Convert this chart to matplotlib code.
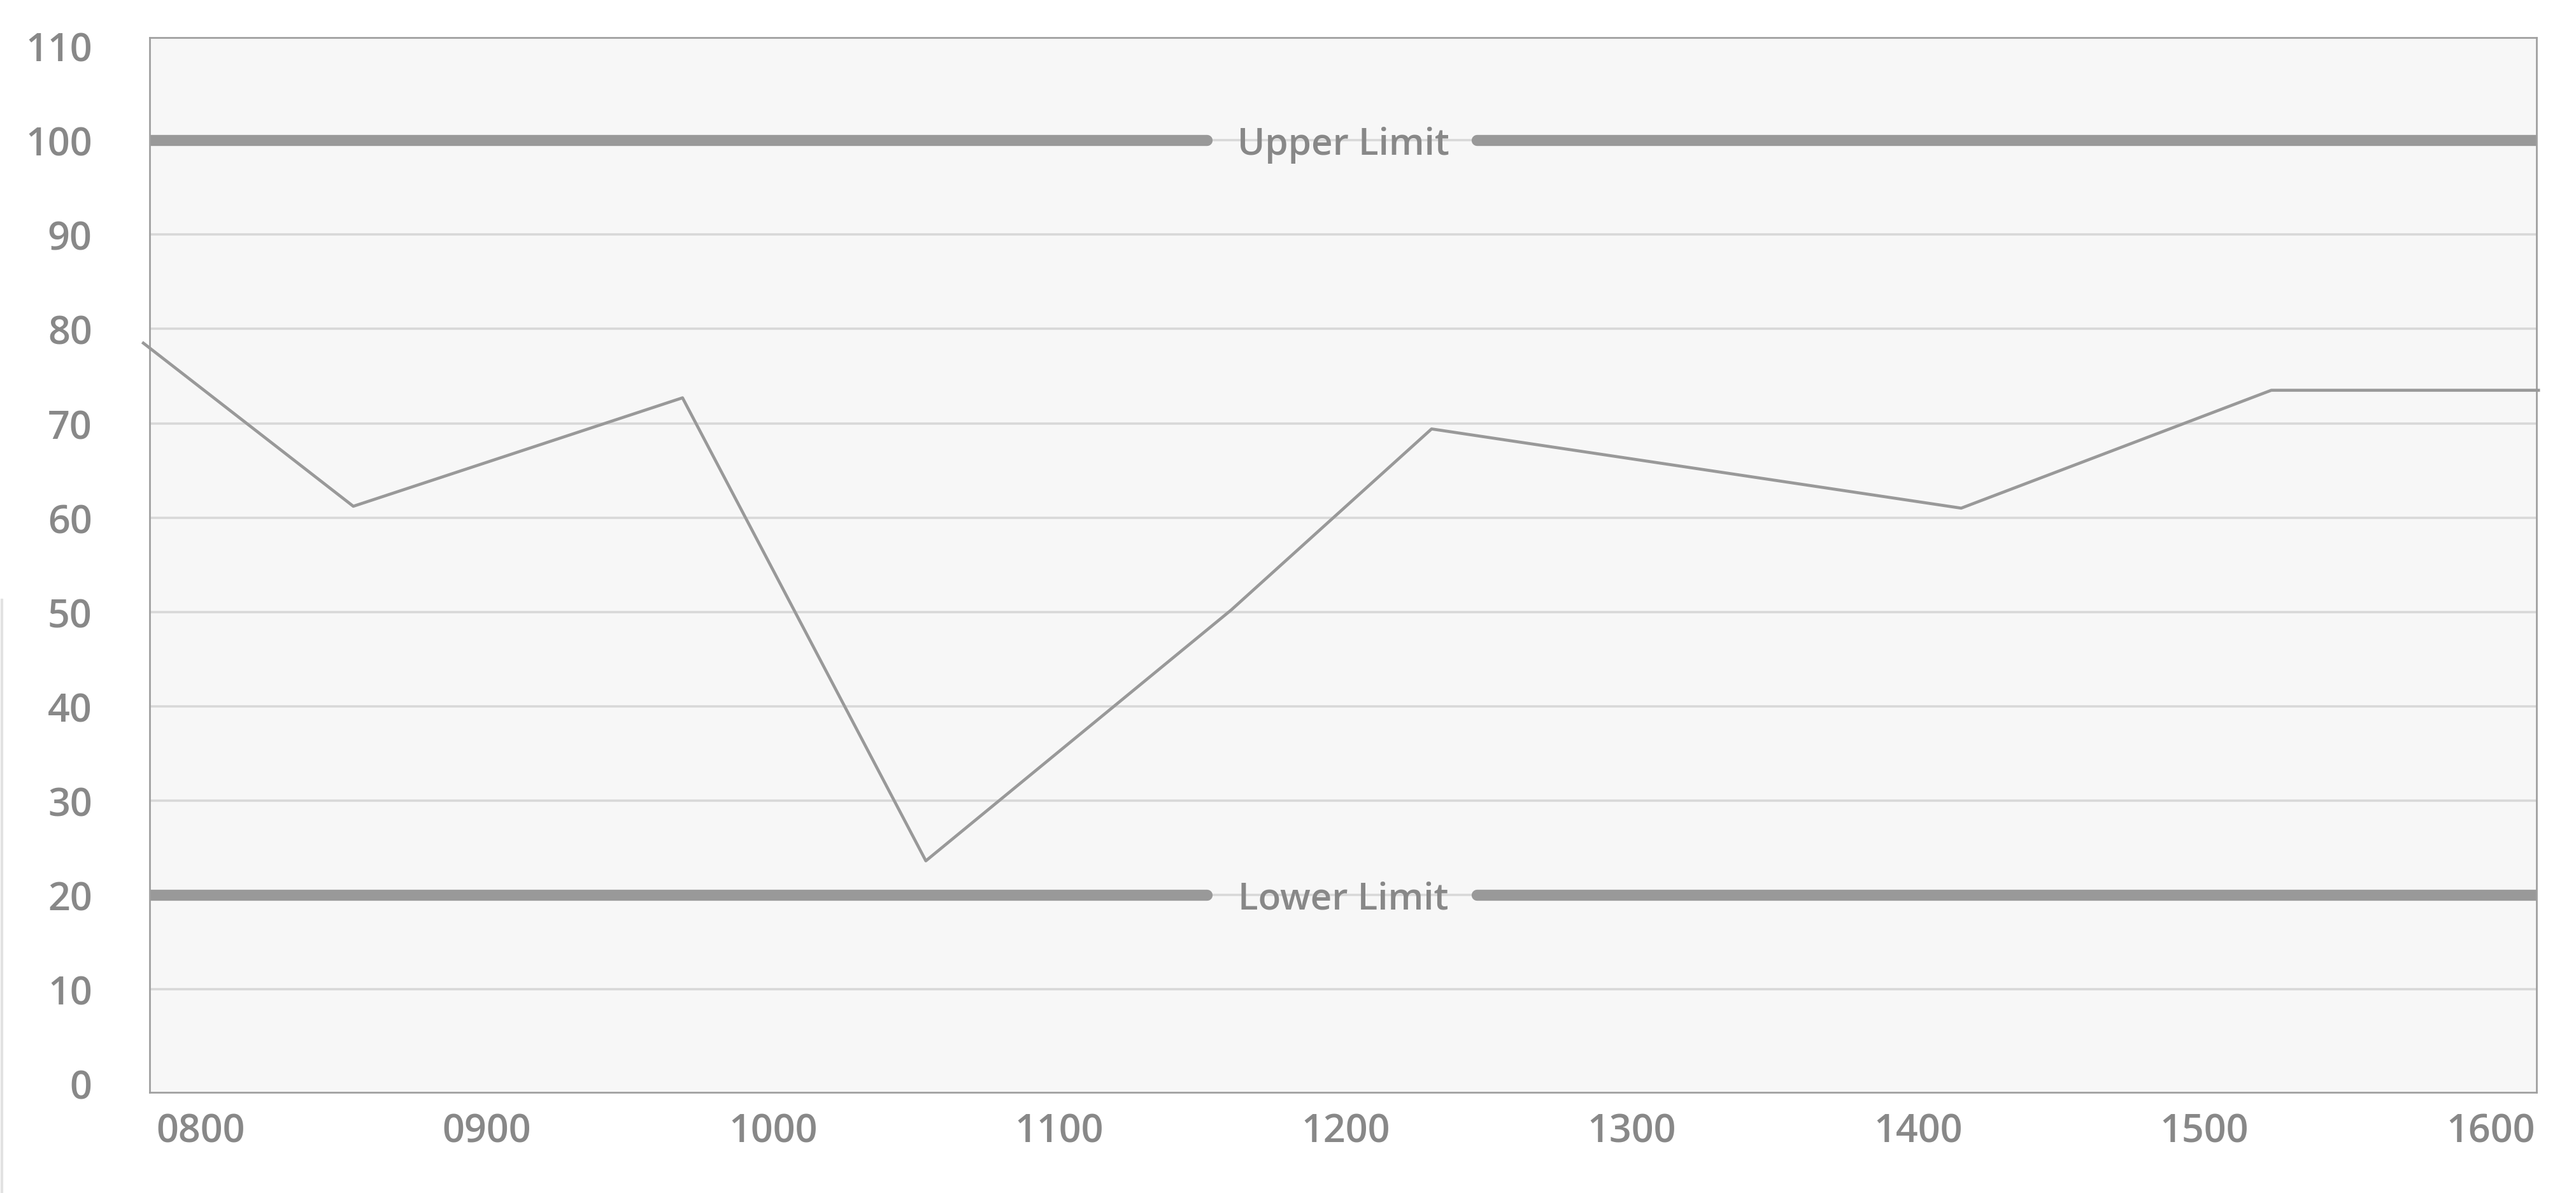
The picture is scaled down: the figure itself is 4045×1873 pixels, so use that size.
import matplotlib.pyplot as plt
from matplotlib.lines import Line2D

# * data
times = ["07:48", "08:32", "09:41", "10:32", "11:36", "12:18", "14:09", "15:14", "16:10"]
values = [78.5, 61.2, 72.7, 23.6, 50.2, 69.4, 61.0, 73.5, 73.5]
tick_hours = [8, 9, 10, 11, 12, 13, 14, 15, 16]
tick_labels = ["0800", "0900", "1000", "1100", "1200", "1300", "1400", "1500", "1600"]
y_ticks = [0, 10, 20, 30, 40, 50, 60, 70, 80, 90, 100, 110]
limits = {"Upper Limit": 100, "Lower Limit": 20}


def to_hours(t):
    h, m = t.split(":")
    return int(h) + int(m) / 60


x = [to_hours(t) for t in times]

# * style
bg = "#f7f7f7"
grey_line = "#999999"
grid_col = "#d8d8d8"
text_col = "#888888"
plt.rcParams["font.family"] = ["Open Sans", "DejaVu Sans"]

fig = plt.figure(figsize=(40.45, 18.74), dpi=100)
ax = fig.add_axes([0.0581, 0.0843, 0.9266, 0.8837])
ax.set_facecolor(bg)
ax.set_xlim(7.822, 16.16)
ax.set_ylim(-0.95, 110.9)

# gridlines (skip the ones on the frame)
for v in y_ticks[1:-1]:
    ax.axhline(v, color=grid_col, lw=2.6, zorder=1)

# limit lines with a gap for the label
for name, v in limits.items():
    for x0, x1 in [(0.0, 0.443), (0.556, 1.0)]:
        ax.add_line(
            Line2D(
                [x0, x1], [v, v],
                transform=ax.get_yaxis_transform(),
                color=grey_line, lw=12.5, solid_capstyle="round", zorder=2,
            )
        )
    ax.text(
        0.5, v, name, transform=ax.get_yaxis_transform(),
        ha="center", va="center_baseline", fontsize=42, color=text_col,
        fontweight="semibold", zorder=3,
    )

# data line
ax.plot(x, values, color=grey_line, lw=3.4, zorder=4, clip_on=False)

# axes
ax.set_xticks(tick_hours)
ax.set_xticklabels(tick_labels)
ax.set_yticks(y_ticks)
ax.tick_params(axis="both", length=0, labelsize=44, labelcolor=text_col)
ax.tick_params(axis="y", pad=65)
ax.tick_params(axis="x", pad=22)
for lbl in ax.get_xticklabels() + ax.get_yticklabels():
    lbl.set_fontweight("semibold")
for spine in ax.spines.values():
    spine.set_color("#a0a0a0")
    spine.set_linewidth(2)

# faint page edge on the left
fig.add_artist(Line2D([0.0008, 0.0008], [0.0, 0.497], transform=fig.transFigure,
                      color="#e2e2e2", lw=3))

fig.savefig("out.png", dpi=100, facecolor="white")
